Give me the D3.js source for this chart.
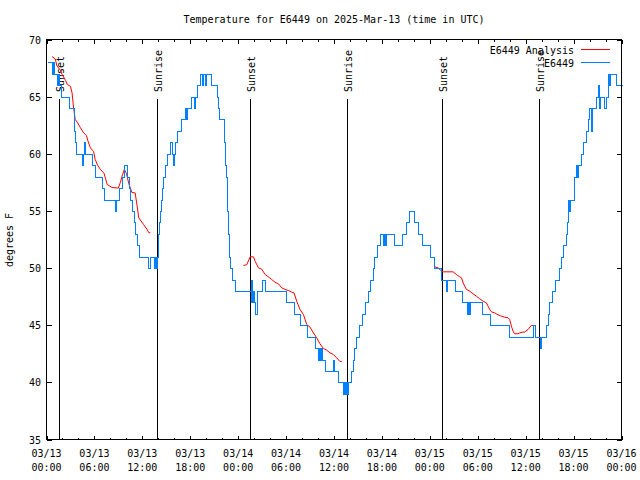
<!DOCTYPE html>
<html><head><meta charset="utf-8">
<script src="https://cdn.jsdelivr.net/npm/d3@7"></script>
<style>
body{margin:0;background:#fff}
svg{display:block}
text{font-family:"DejaVu Sans Mono",monospace;font-size:10px;fill:#000}
</style>
</head><body><svg id="c" width="640" height="480"></svg>
<script>
const titleText = "Temperature for E6449 on 2025-Mar-13 (time in UTC)";
const yLabel = "degrees F";
const startTime = "2025-03-13T00:00:00Z";
const endTime = "2025-03-16T00:00:00Z";
const yTicks = [35, 40, 45, 50, 55, 60, 65, 70];
const seriesNames = ["E6449 Analysis", "E6449"];
const seriesColors = ["#ff0000", "#0080ff"];
const sunLabels = ["Sunset", "Sunrise", "Sunset", "Sunrise", "Sunset", "Sunrise"];
const sunHours = [1.54, 13.83, 25.53, 37.66, 49.53, 61.66];

// observations: hours since start, value holds until next change
const obsHours = [0,0.7,0.85,1.0,1.3,1.45,1.6,1.8,2.8,3.4,3.5,3.6,3.75,4.5,4.6,4.75,4.85,5.7,6.04,6.96,7.17,8.55,8.7,9.04,9.46,9.75,10.08,10.3,10.5,10.7,10.9,11.1,11.35,11.6,12.75,12.9,13.5,13.6,13.7,13.85,13.92,14.0,14.1,14.2,14.3,14.45,14.6,14.8,15.1,15.5,15.75,15.85,15.95,16.1,16.35,16.9,17.4,17.5,17.6,18.1,18.5,18.6,18.85,19.25,19.45,19.55,19.85,19.95,20.6,21.4,21.5,21.6,22.2,22.25,22.3,22.4,22.45,22.55,22.6,22.65,22.7,22.75,22.8,22.87,22.95,23.2,23.6,25.55,25.62,25.75,25.85,26.0,26.1,26.3,26.4,27.0,27.4,30.05,31.05,31.75,32.6,33.6,34.0,34.15,34.25,34.4,34.5,34.9,35.9,36.05,36.5,37.15,37.3,37.4,37.55,37.62,37.7,38.15,38.35,38.55,38.75,39.1,39.5,39.9,40.2,40.55,40.85,41.05,41.4,41.7,42.1,42.25,42.4,42.55,43.5,44.55,45.0,45.4,46.05,46.5,47.05,48.05,48.5,49.4,50.0,50.15,51.1,52.0,52.7,52.8,52.9,53.05,54.5,55.5,57.9,60.95,61.15,61.75,61.95,62.55,62.75,62.95,63.3,63.65,64.2,64.45,64.65,65.0,65.2,65.3,65.45,65.55,66.0,66.3,66.45,66.6,66.9,67.15,67.5,67.75,67.95,68.15,68.25,68.75,69.0,69.15,69.25,69.85,70.0,70.25,70.45,70.6,71.25,72];
const obsTemps = [68,67,68,67,66,67,66,65,64,63,62,61,60,59,60,61,60,59,58,57,56,55,56,57,58,59,58,57,56,55,54,53,52,51,50,51,50,51,50,51,52,53,54,55,56,57,58,59,60,61,60,59,60,61,62,63,64,63,64,65,64,65,66,67,66,67,66,67,66,65,64,63,62,61,60,59,58,57,56,55,54,53,52,51,50,49,48,47,49,47,48,47,46,47,48,49,48,47,46,45,44,43,42,43,42,43,42,41,42,41,40,39,40,39,40,39,40,41,42,43,44,45,46,47,48,49,50,51,52,53,52,53,52,53,52,53,54,55,54,53,52,51,50,49,48,49,48,47,46,47,46,47,46,45,44,45,44,43,44,45,46,47,48,49,50,51,52,53,54,56,55,56,58,59,58,59,60,61,62,63,64,62,64,65,66,64,65,64,65,67,66,67,66,66];

// analysis segments: [hours since start, temperature]
const analysis1 = [[0.7,68.5],[1.1,68.3],[1.3,67.7],[1.75,67.3],[1.95,66.95],[2.4,66.4],[2.6,66.06],[3.0,65.9],[3.2,65.33],[3.4,64.0],[3.6,63.0],[3.9,62.7],[4.25,62.27],[4.65,61.83],[5.0,61.6],[5.2,61.1],[5.5,60.52],[5.9,60.2],[6.1,59.5],[6.4,59.0],[6.75,58.63],[7.2,58.3],[7.6,57.31],[8.2,57.05],[9.0,57.0],[9.25,57.5],[9.46,58.04],[9.75,58.63],[10.0,58.3],[10.3,57.4],[10.5,57.0],[10.7,56.6],[11.1,56.58],[11.35,55.42],[11.55,54.4],[11.75,54.2],[12.17,53.8],[12.58,53.4],[12.8,53.1],[13.0,53.08]];
const analysis2 = [[24.67,50.22],[25.08,50.3],[25.5,50.98],[25.92,50.98],[26.12,50.6],[26.54,50.02],[26.96,49.9],[27.37,49.44],[27.79,49.23],[28.2,49.0],[28.6,48.77],[29.04,48.62],[29.46,48.27],[29.87,48.13],[30.29,48.04],[30.71,47.89],[31.0,47.83],[31.33,47.1],[31.75,46.37],[32.17,45.94],[32.58,45.06],[33.0,44.83],[33.42,44.33],[33.83,43.9],[34.25,43.37],[34.67,42.96],[35.08,42.82],[35.5,42.58],[35.92,42.44],[36.33,42.15],[36.75,41.82],[36.96,41.82]];
const analysis3 = [[48.62,50.11],[49.04,50.02],[49.46,49.73],[49.67,49.67],[50.92,49.67],[51.33,49.44],[51.75,49.23],[51.96,49.15],[52.17,48.71],[52.37,48.42],[52.58,48.13],[53.0,47.98],[53.42,47.75],[53.83,47.54],[54.25,47.31],[54.67,47.1],[55.08,46.96],[55.29,46.67],[55.5,46.37],[55.71,46.17],[56.12,46.08],[56.54,45.91],[56.96,45.79],[57.37,45.7],[57.79,45.65],[58.0,45.5],[58.21,44.92],[58.42,44.48],[58.62,44.25],[59.04,44.25],[59.25,44.33],[59.67,44.4],[59.87,44.4],[60.29,44.62],[60.71,44.98],[61.0,44.98]];

const svg = d3.select("#c");
const t0 = new Date(startTime), t1 = new Date(endTime);
const toDate = h => new Date(t0.getTime() + h * 3600000);
const L = 46.5, R = 621.5, T = 39.5, B = 439.5;
const x = d3.scaleUtc().domain([t0, t1]).range([L, R]);
const y = d3.scaleLinear().domain([35, 70]).range([B, T]);

svg.append("rect").attr("width", 640).attr("height", 480).attr("fill", "#fff");

// ticks
const g = svg.append("g").attr("stroke", "#000").attr("stroke-width", 1).attr("shape-rendering", "crispEdges");
const minor = d3.utcHour.every(2).range(t0, d3.utcHour.offset(t1, 1));
minor.forEach(d => {
  const major = d.getUTCHours() % 6 === 0;
  const len = major ? 4 : 2;
  const px = Math.round(x(d)) + 0.5;
  g.append("line").attr("x1", px).attr("x2", px).attr("y1", B).attr("y2", B - len);
  g.append("line").attr("x1", px).attr("x2", px).attr("y1", T).attr("y2", T + len);
});
yTicks.forEach(v => {
  const py = Math.round(y(v)) + 0.5;
  g.append("line").attr("x1", L).attr("x2", L + 5).attr("y1", py).attr("y2", py);
  g.append("line").attr("x1", R).attr("x2", R - 5).attr("y1", py).attr("y2", py);
});

// tick labels
const fmtD = d3.utcFormat("%m/%d"), fmtT = d3.utcFormat("%H:%M");
d3.utcHour.every(6).range(t0, d3.utcHour.offset(t1, 1)).forEach(d => {
  const tx = svg.append("text").attr("text-anchor", "middle").attr("x", x(d));
  tx.append("tspan").attr("x", x(d)).attr("y", 457).text(fmtD(d));
  tx.append("tspan").attr("x", x(d)).attr("y", 471).text(fmtT(d));
});
yTicks.forEach(v => {
  svg.append("text").attr("text-anchor", "end").attr("x", 41).attr("y", y(v) + 4).text(v);
});

// title & axis label
svg.append("text").attr("text-anchor", "middle").attr("x", 334).attr("y", 23).text(titleText);
svg.append("text").attr("text-anchor", "middle").attr("transform", "translate(13,240) rotate(-90)").text(yLabel);

// sun lines
sunHours.forEach((h, i) => {
  const px = Math.round(x(toDate(h))) + 0.5;
  svg.append("line").attr("x1", px).attr("x2", px).attr("y1", 99).attr("y2", B)
    .attr("stroke", "#000").attr("shape-rendering", "crispEdges");
  svg.append("text").attr("text-anchor", "start")
    .attr("transform", `translate(${px + 4},92) rotate(-90)`).text(sunLabels[i]);
});

// data
const redLine = d3.line().x(d => x(toDate(d[0]))).y(d => y(d[1]));
[analysis1, analysis2, analysis3].forEach(seg => {
  svg.append("path").datum(seg).attr("d", redLine).attr("fill", "none")
    .attr("stroke", seriesColors[0]).attr("stroke-width", 1);
});
const obs = obsHours.map((h, i) => [h, obsTemps[i]]);
const blueLine = d3.line().x(d => Math.round(x(toDate(d[0]))) + 0.5).y(d => Math.round(y(d[1])) + 0.5).curve(d3.curveStepAfter);
svg.append("path").datum(obs).attr("d", blueLine).attr("fill", "none")
  .attr("stroke", seriesColors[1]).attr("stroke-width", 1).attr("shape-rendering", "crispEdges");

// legend
seriesNames.forEach((n, i) => {
  const ly = 49.5 + i * 13;
  svg.append("text").attr("text-anchor", "end").attr("x", 574).attr("y", ly + 4).text(n);
  svg.append("line").attr("x1", 581).attr("x2", 610).attr("y1", ly).attr("y2", ly)
    .attr("stroke", seriesColors[i]).attr("shape-rendering", "crispEdges");
});

// frame
svg.append("rect").attr("x", L).attr("y", T).attr("width", R - L).attr("height", B - T)
  .attr("fill", "none").attr("stroke", "#000").attr("shape-rendering", "crispEdges");
</script>
</body></html>
